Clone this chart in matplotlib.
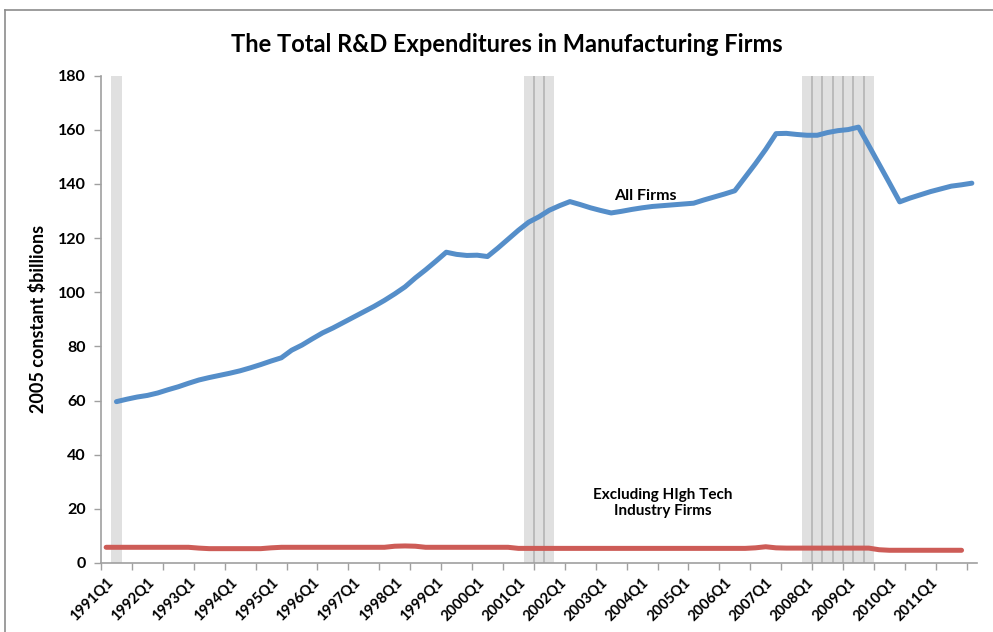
import matplotlib.pyplot as plt
import numpy as np

plt.rcParams['font.family'] = ['Lato', 'DejaVu Sans']

# quarterly categories 1991Q1 .. 2012Q1
quarters = [f"{y}Q{q}" for y in range(1991, 2013) for q in range(1, 5)][:85]

# All firms, 1991Q2 .. 2012Q1 (2005 constant $billions)
all_firms = [59.6, 60.5, 61.3, 61.9, 62.8, 64.0, 65.1, 66.4, 67.6, 68.5,
             69.3, 70.1, 71.0, 72.1, 73.3, 74.6, 75.8, 78.6, 80.5, 82.8,
             85.0, 86.8, 88.8, 90.8, 92.8, 94.8, 97.0, 99.4, 102.0, 105.3,
             108.3, 111.5, 114.8, 114.0, 113.6, 113.7, 113.2, 116.3, 119.6, 122.9,
             125.9, 127.9, 130.3, 132.0, 133.5, 132.4, 131.2, 130.2, 129.3, 129.9,
             130.6, 131.2, 131.7, 132.0, 132.3, 132.6, 132.9, 134.1, 135.2, 136.3,
             137.5, 142.5, 147.5, 152.8, 158.6, 158.7, 158.3, 158.0, 158.0, 159.0,
             159.7, 160.1, 161.0, 154.2, 147.3, 140.4, 133.4, 134.8, 136.0, 137.2,
             138.2, 139.2, 139.7, 140.3]
all_quarters = quarters[1:85]

# Excluding high tech industry firms, 1991Q1 .. 2011Q4
excl_high_tech = [5.8, 5.8, 5.8, 5.8, 5.8, 5.8, 5.8, 5.8, 5.8, 5.5,
                  5.3, 5.3, 5.3, 5.3, 5.3, 5.3, 5.6, 5.8, 5.8, 5.8,
                  5.8, 5.8, 5.8, 5.8, 5.8, 5.8, 5.8, 5.8, 6.2, 6.3,
                  6.2, 5.8, 5.8, 5.8, 5.8, 5.8, 5.8, 5.8, 5.8, 5.8,
                  5.4, 5.4, 5.4, 5.4, 5.4, 5.4, 5.4, 5.4, 5.4, 5.4,
                  5.4, 5.4, 5.4, 5.4, 5.4, 5.4, 5.4, 5.4, 5.4, 5.4,
                  5.4, 5.4, 5.4, 5.6, 6.0, 5.6, 5.5, 5.5, 5.5, 5.5,
                  5.5, 5.5, 5.5, 5.5, 5.5, 4.9, 4.7, 4.7, 4.7, 4.7,
                  4.7, 4.7, 4.7, 4.7]
excl_quarters = quarters[0:84]

recession = ["1991Q2", "2001Q2", "2001Q3", "2001Q4",
             "2008Q1", "2008Q2", "2008Q3", "2008Q4",
             "2009Q1", "2009Q2", "2009Q3"]

pos = {q: i for i, q in enumerate(quarters)}

fig = plt.figure(figsize=(9.93, 6.32), dpi=100)
ax = fig.add_axes([101 / 993, 1 - 563 / 632, 876 / 993, (563 - 75.7) / 632])

# recession shading, one grey bar per quarter
ymax = 180
for q in recession:
    i = pos[q]
    ax.axvspan(i - 0.5, i + 0.5, color='#e0e0e0', lw=0, zorder=1)
    if quarters[i - 1] in recession:
        ax.plot([i - 0.5, i - 0.5], [0, ymax], color='#b4b4b4', lw=1.2, zorder=1.5)

blue = '#558ec9'
red = '#cd5c57'
ax.plot([pos[q] for q in all_quarters], all_firms, color=blue, lw=3.6,
        solid_capstyle='round', solid_joinstyle='round', zorder=3)
ax.plot([pos[q] for q in excl_quarters], excl_high_tech, color=red, lw=3.6,
        solid_capstyle='round', solid_joinstyle='round', zorder=3)

ax.set_xlim(-0.5, len(quarters) - 0.5)
ax.set_ylim(0, ymax)
ax.set_yticks(np.arange(0, 181, 20))
ax.set_xticks(range(0, 84, 4))
ax.set_xticklabels([quarters[i] for i in range(0, 84, 4)], rotation=45,
                   ha='right', rotation_mode='anchor', fontweight='bold', fontsize=10.5)
ax.set_xticks(np.arange(-0.5, 84, 3), minor=True)
ax.tick_params(axis='x', which='major', length=0, pad=9)
ax.tick_params(axis='x', which='minor', length=5, color='#a0a0a0', width=1)
ax.tick_params(axis='y', length=5, color='#a0a0a0', width=1, pad=6)
for lab in ax.get_yticklabels():
    lab.set_fontweight('bold')
    lab.set_fontsize(11.5)

for s in ['top', 'right']:
    ax.spines[s].set_visible(False)
for s in ['left', 'bottom']:
    ax.spines[s].set_color('#a0a0a0')
    ax.spines[s].set_linewidth(1.2)

ax.set_ylabel('2005 constant $billions', fontweight='bold', fontsize=13, labelpad=8)

ax.text(52.3, 135.7, 'All Firms', ha='center', va='center', fontweight='bold', fontsize=11.5)
ax.text(54.0, 22.2, 'Excluding HIgh Tech\nIndustry Firms', ha='center', va='center',
        fontweight='bold', fontsize=11, linespacing=1.2)

fig.text(507 / 993, 1 - 44 / 632, 'The Total R&D Expenditures in Manufacturing Firms',
         ha='center', va='center', fontweight='bold', fontsize=17)

# chart area frame (top and left edges fall inside the image)
fig.add_artist(plt.Line2D([5 / 993, 1], [1 - 10 / 632, 1 - 10 / 632], color='#8c8c8c', lw=1.2))
fig.add_artist(plt.Line2D([5 / 993, 5 / 993], [0, 1 - 10 / 632], color='#8c8c8c', lw=1.2))

fig.savefig('out.png', dpi=100)
